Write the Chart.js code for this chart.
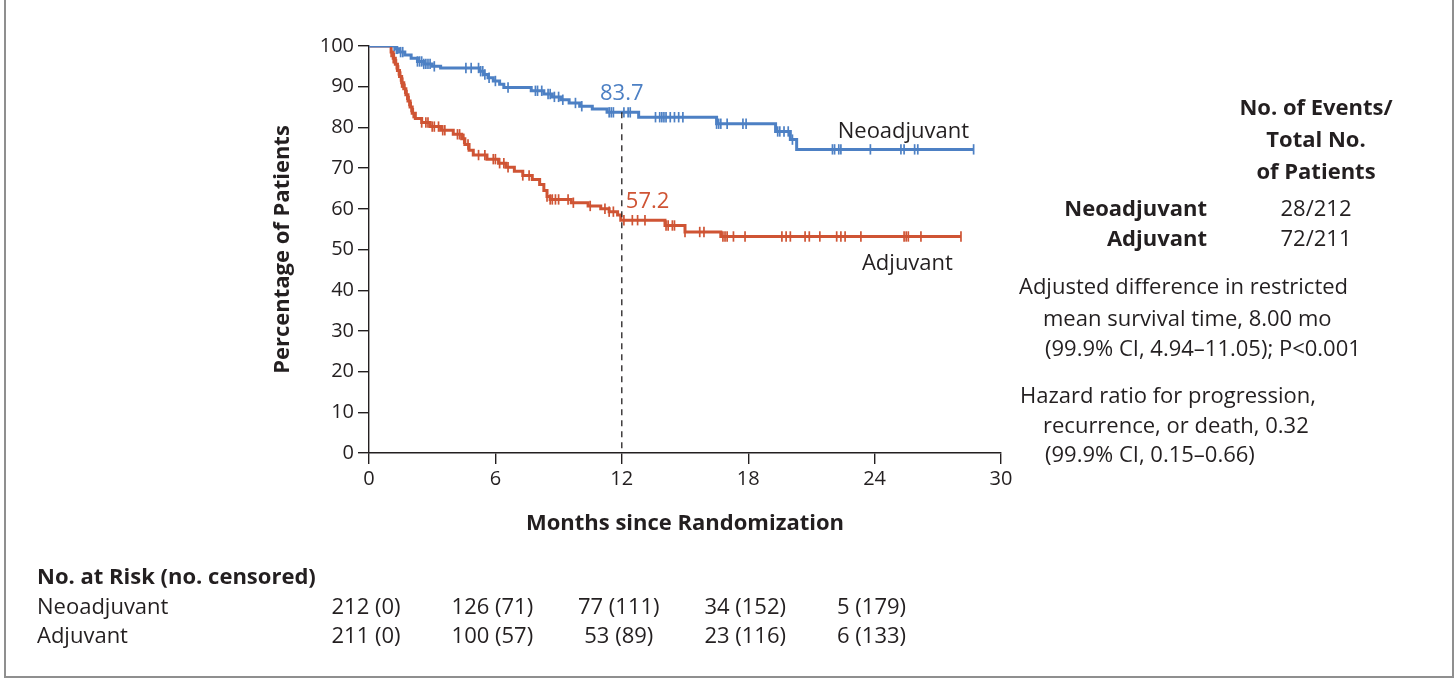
<!DOCTYPE html>
<html>
<head>
<meta charset="utf-8">
<script src="https://cdn.jsdelivr.net/npm/chart.js@4.4.1/dist/chart.umd.min.js"></script>
<style>
html,body{margin:0;padding:0;background:#fff;}
#wrap{position:relative;width:1456px;height:679px;overflow:hidden;font-family:"Open Sans",Lato,sans-serif;color:#231f20;}
#frame{position:absolute;left:4px;top:-4px;width:1450px;height:682px;border:2px solid #8f8f8f;box-sizing:border-box;}
#c{position:absolute;left:0;top:0;}
.t{position:absolute;white-space:nowrap;font-size:22px;line-height:26px;}
.b{font-weight:700;}
.ctr{text-align:center;}
.rt{text-align:right;}
</style>
</head>
<body>
<div id="wrap">
  <div id="frame"></div>
  <canvas id="c" width="1456" height="679"></canvas>

  <div class="t b ctr" style="left:1216px;width:200px;top:93px;">No. of Events/</div>
  <div class="t b ctr" style="left:1216px;width:200px;top:125px;">Total No.</div>
  <div class="t b ctr" style="left:1216px;width:200px;top:157px;">of Patients</div>
  <div class="t b rt" style="right:249px;top:194px;">Neoadjuvant</div>
  <div class="t b rt" style="right:249px;top:224px;">Adjuvant</div>
  <div class="t ctr" id="neoEv" style="left:1266px;width:100px;top:194px;"></div>
  <div class="t ctr" id="adjEv" style="left:1266px;width:100px;top:224px;"></div>

  <div class="t" style="left:1019px;top:272px;">Adjusted difference in restricted</div>
  <div class="t" style="left:1043px;top:304px;">mean survival time, 8.00 mo</div>
  <div class="t" style="left:1045px;top:334px;">(99.9% CI, 4.94–11.05); P&lt;0.001</div>
  <div class="t" style="left:1020px;top:381px;">Hazard ratio for progression,</div>
  <div class="t" style="left:1043px;top:411px;">recurrence, or death, 0.32</div>
  <div class="t" style="left:1045px;top:440px;">(99.9% CI, 0.15–0.66)</div>

  <div class="t b" style="left:37px;top:562px;">No. at Risk (no. censored)</div>
  <div class="t" style="left:37px;top:592px;">Neoadjuvant</div>
  <div class="t" style="left:37px;top:621px;">Adjuvant</div>
</div>
<script>
// ---------------- DATA ----------------
const seriesNames = ['Neoadjuvant', 'Adjuvant'];

// Kaplan-Meier step points (month, % event-free after that time)
const neoTimes = [0, 1.25, 1.45, 1.7, 2.0, 2.3, 2.6, 3.0, 3.4, 5.25, 5.45, 5.65, 5.9, 6.2, 6.4, 7.7, 8.3, 8.7, 9.1, 9.5, 10.0, 10.6, 11.3, 12.8, 16.5, 19.3, 20.0, 20.3, 28.7];
const neoSurv  = [100, 99.3, 98.5, 97.8, 97.0, 96.2, 95.6, 95.0, 94.6, 93.8, 93.0, 92.2, 91.4, 90.6, 89.8, 89.0, 88.2, 87.5, 86.8, 86.0, 85.2, 84.5, 83.7, 82.5, 80.9, 79.0, 77.0, 74.6, 74.6];

const adjTimes = [0, 1.05, 1.15, 1.25, 1.35, 1.45, 1.55, 1.65, 1.75, 1.85, 1.95, 2.05, 2.2, 2.5, 2.9, 3.4, 4.0, 4.4, 4.55, 4.75, 4.95, 5.6, 6.15, 6.5, 6.9, 7.3, 7.75, 8.1, 8.3, 8.45, 8.6, 9.6, 10.4, 11.0, 11.4, 11.8, 11.95, 14.05, 15.0, 16.7, 28.1];
const adjSurv  = [100, 98.5, 97.0, 95.5, 94.0, 92.5, 91.0, 89.5, 88.0, 86.5, 85.0, 83.5, 82.2, 81.2, 80.2, 79.3, 78.3, 77.2, 75.8, 74.4, 73.2, 72.2, 71.2, 70.2, 69.2, 68.2, 67.2, 66.0, 64.5, 63.0, 62.3, 61.5, 60.7, 60.0, 59.3, 58.5, 57.2, 55.9, 54.3, 53.2, 53.2];

// censoring times (months)
const neoCensor = [1.2, 1.3, 1.35, 1.5, 1.6, 2.3, 2.4, 2.5, 2.6, 2.7, 2.8, 2.9, 3.1, 4.6, 4.85, 5.2, 5.3, 5.4, 5.5, 5.7, 6.0, 6.6, 7.9, 8.0, 8.2, 8.5, 8.6, 8.8, 9.0, 9.2, 9.8, 10.1, 11.4, 11.5, 11.6, 12.1, 12.3, 12.4, 13.6, 13.8, 13.9, 14.0, 14.1, 14.3, 14.5, 14.7, 14.9, 16.5, 16.6, 16.7, 17.0, 17.75, 17.9, 19.4, 19.5, 19.7, 19.9, 20.1, 22.0, 22.1, 22.3, 22.4, 23.8, 25.25, 25.4, 25.9, 26.05, 28.7];
const adjCensor = [1.05, 1.15, 1.2, 1.3, 1.4, 1.5, 1.55, 1.6, 1.7, 1.8, 1.9, 2.0, 2.1, 2.5, 2.7, 2.8, 3.0, 3.1, 3.3, 3.5, 3.6, 4.2, 4.3, 4.5, 4.7, 5.2, 5.5, 5.9, 6.0, 6.2, 6.4, 6.6, 7.3, 7.6, 8.45, 8.6, 8.7, 8.85, 9.0, 9.45, 9.7, 10.5, 11.2, 11.4, 11.6, 12.1, 12.5, 12.75, 13.1, 14.1, 14.2, 14.4, 14.5, 15.0, 15.7, 15.9, 16.8, 16.9, 17.0, 17.3, 17.85, 19.6, 19.8, 20.0, 20.7, 20.9, 21.4, 22.2, 22.4, 22.6, 23.35, 25.4, 25.5, 25.6, 26.2, 28.1];

// 12-month landmark values
const landmarkMonth = 12;
const neoLandmark = 83.7;
const adjLandmark = 57.2;

// axis ticks
const xTickStep = 6;
const xMax = 30;
const yTickStep = 10;
const yMax = 100;

// events / total
const neoEvents = '28/212';
const adjEvents = '72/211';

// number at risk table
const riskTimes = [0, 6, 12, 18, 24];
const neoAtRisk = [212, 126, 77, 34, 5];
const neoCensored = [0, 71, 111, 152, 179];
const adjAtRisk = [211, 100, 53, 23, 6];
const adjCensored = [0, 57, 89, 116, 133];

// ---------------- STYLE ----------------
const BLUE = '#4d80c4';
const RED = '#cf5434';
const INK = '#231f20';
const FONT = '"Open Sans", Lato, sans-serif';

function stepValue(times, surv, t) {
  let v = surv[0];
  for (let i = 0; i < times.length; i++) { if (times[i] <= t) v = surv[i]; else break; }
  return v;
}
const toXY = (ts, vs) => ts.map((t, i) => ({x: t, y: vs[i]}));
const censorXY = (cs, ts, vs) => cs.map(t => ({x: t, y: stepValue(ts, vs, t)}));

const annot = {
  id: 'annot',
  afterDatasetsDraw(chart) {
    const {ctx, scales: {x, y}} = chart;
    ctx.save();
    ctx.strokeStyle = INK;
    ctx.lineWidth = 1.3;
    ctx.setLineDash([6, 5]);
    ctx.beginPath();
    ctx.moveTo(x.getPixelForValue(landmarkMonth), y.getPixelForValue(neoLandmark));
    ctx.lineTo(x.getPixelForValue(landmarkMonth), y.getPixelForValue(0));
    ctx.stroke();
    ctx.restore();
  }
};

const chart = new Chart(document.getElementById('c'), {
  data: {
    datasets: [
      {type: 'scatter', label: seriesNames[0] + ' censored', data: censorXY(neoCensor, neoTimes, neoSurv),
       pointStyle: 'line', rotation: 90, radius: 5.2, borderWidth: 1.7, borderColor: BLUE, backgroundColor: BLUE, order: 0},
      {type: 'scatter', label: seriesNames[1] + ' censored', data: censorXY(adjCensor, adjTimes, adjSurv),
       pointStyle: 'line', rotation: 90, radius: 5.2, borderWidth: 1.7, borderColor: RED, backgroundColor: RED, order: 0},
      {type: 'line', label: seriesNames[0], data: toXY(neoTimes, neoSurv), stepped: true,
       borderColor: BLUE, borderWidth: 3, pointRadius: 0, fill: false, order: 1},
      {type: 'line', label: seriesNames[1], data: toXY(adjTimes, adjSurv), stepped: true,
       borderColor: RED, borderWidth: 3, pointRadius: 0, fill: false, order: 2}
    ]
  },
  options: {
    responsive: false,
    animation: false,
    devicePixelRatio: 1,
    layout: {padding: {left: 270, right: 455, top: 46, bottom: 142}},
    plugins: {legend: {display: false}, tooltip: {enabled: false}},
    scales: {
      x: {
        type: 'linear', min: 0, max: xMax,
        ticks: {stepSize: xTickStep, color: INK, font: {family: FONT, size: 20}, padding: 3, maxRotation: 0},
        grid: {display: true, drawOnChartArea: false, drawTicks: true, tickLength: 11, color: INK, lineWidth: 1.4},
        border: {display: true, color: INK, width: 1.4},
        title: {display: true, text: 'Months since Randomization', color: INK, font: {family: FONT, size: 22, weight: '700'}, padding: 0},
        afterFit(s) { s.height = 84; }
      },
      y: {
        type: 'linear', min: 0, max: yMax,
        ticks: {stepSize: yTickStep, color: INK, font: {family: FONT, size: 20}, padding: 4},
        grid: {display: true, drawOnChartArea: false, drawTicks: true, tickLength: 11, color: INK, lineWidth: 1.4},
        border: {display: true, color: INK, width: 1.4},
        title: {display: true, text: 'Percentage of Patients', color: INK, font: {family: FONT, size: 22, weight: '700'}, padding: 0},
        afterFit(s) { s.width = 99; }
      }
    }
  },
  plugins: [annot]
});

// ---------- text overlays positioned through the scales ----------
const wrap = document.getElementById('wrap');
const xs = chart.scales.x, ys = chart.scales.y;
function addText(txt, left, center, color, align) {
  const d = document.createElement('div');
  d.className = 't';
  d.textContent = txt;
  d.style.top = (center - 13) + 'px';
  if (color) d.style.color = color;
  if (align === 'center') { d.style.left = (left - 100) + 'px'; d.style.width = '200px'; d.style.textAlign = 'center'; }
  else d.style.left = left + 'px';
  wrap.appendChild(d);
}
document.getElementById('neoEv').textContent = neoEvents;
document.getElementById('adjEv').textContent = adjEvents;

addText(neoLandmark.toFixed(1), xs.getPixelForValue(landmarkMonth), ys.getPixelForValue(neoLandmark) - 21, BLUE, 'center');
addText(adjLandmark.toFixed(1), xs.getPixelForValue(landmarkMonth) + 4, ys.getPixelForValue(adjLandmark) - 21, RED);
addText(seriesNames[0], xs.getPixelForValue(22.25), ys.getPixelForValue(neoSurv[neoSurv.length - 1]) - 20, INK);
addText(seriesNames[1], xs.getPixelForValue(23.4), ys.getPixelForValue(adjSurv[adjSurv.length - 1]) + 25, INK);

riskTimes.forEach((t, i) => {
  const px = xs.getPixelForValue(t) - 3;
  addText(neoAtRisk[i] + ' (' + neoCensored[i] + ')', px, 605, INK, 'center');
  addText(adjAtRisk[i] + ' (' + adjCensored[i] + ')', px, 634, INK, 'center');
});
</script>
</body>
</html>
